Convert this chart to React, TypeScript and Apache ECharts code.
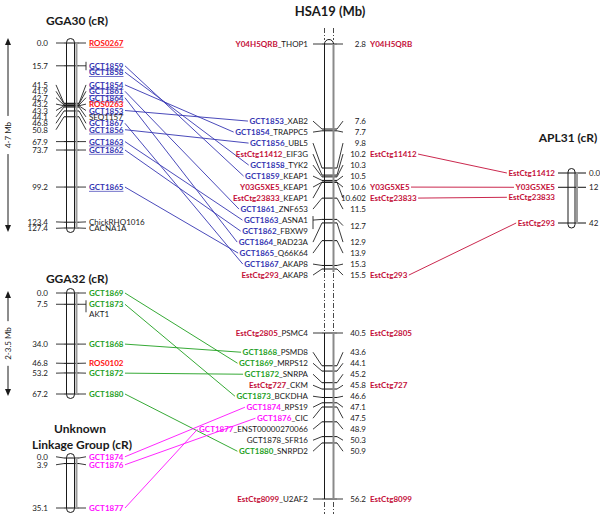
import React, { useEffect, useRef } from "react";
import * as echarts from "echarts";

// ---------------- data ----------------
const gga30Markers = ["ROS0267", "GCT1859", "GCT1858", "GCT1854", "GCT1861", "GCT1864", "ROS0263", "GCT1853", "SEQ1157", "GCT1867", "GCT1856", "GCT1863", "GCT1862", "GCT1865", "ChickRHO1016", "CACNA1A"];
const gga30Positions = [0.0, 15.7, 15.7, 41.5, 41.9, 42.7, 43.2, 43.3, 44.1, 46.8, 50.8, 67.9, 73.7, 99.2, 123.4, 127.4];
const gga30Underlined = ["ROS0267", "GCT1859", "GCT1858", "GCT1854", "GCT1861", "GCT1864", "GCT1853", "GCT1856", "GCT1863", "GCT1862", "GCT1865"];

const gga32Markers = ["GCT1869", "GCT1873", "AKT1", "GCT1868", "ROS0102", "GCT1872", "GCT1880"];
const gga32Positions = [0.0, 7.5, 7.5, 34.0, 46.8, 53.2, 67.2];

const ulgMarkers = ["GCT1874", "GCT1876", "GCT1877"];
const ulgPositions = [0.0, 3.9, 35.1];

const hsaMarkers = ["Y04H5QRB", "GCT1853", "GCT1854", "GCT1856", "EstCtg11412", "GCT1858", "GCT1859", "Y03G5XE5", "EstCtg23833", "GCT1861", "GCT1863", "GCT1862", "GCT1864", "GCT1865", "GCT1867", "EstCtg293", "EstCtg2805", "GCT1868", "GCT1869", "GCT1872", "EstCtg727", "GCT1873", "GCT1874", "GCT1876", "GCT1877", "GCT1878", "GCT1880", "EstCtg8099"];
const hsaGenes = ["THOP1", "XAB2", "TRAPPC5", "UBL5", "EIF3G", "TYK2", "KEAP1", "KEAP1", "KEAP1", "ZNF653", "ASNA1", "FBXW9", "RAD23A", "Q66K64", "AKAP8", "AKAP8", "PSMC4", "PSMD8", "MRPS12", "SNRPA", "CKM", "BCKDHA", "RPS19", "CIC", "ENST00000270066", "SFR16", "SNRPD2", "U2AF2"];
const hsaPositions = [2.8, 7.6, 7.7, 9.8, 10.2, 10.3, 10.5, 10.6, 10.602, 11.5, 12.7, 12.7, 12.9, 13.9, 15.3, 15.5, 40.5, 43.6, 44.1, 45.2, 45.8, 46.6, 47.1, 47.5, 48.9, 50.3, 50.9, 56.2];
const hsaSegments = [[2.8, 15.5], [40.5, 56.2]];

const apl31Markers = ["EstCtg11412", "Y03G5XE5", "EstCtg23833", "EstCtg293"];
const apl31Positions = [0.0, 12, 12, 42];
const apl31TickLabels = ["0.0", "12", "12", "42"];

const mapTitles = ["GGA30 (cR)", "GGA32 (cR)", "Unknown", "Linkage Group (cR)", "HSA19 (Mb)", "APL31 (cR)"];
const scaleBarLabels = ["4-7 Mb", "2-3.5 Mb"];

// ---------------- styles ----------------
const FONT = "Lato, 'Noto Sans', sans-serif";
const LABEL = 8;
const INK = "#1a1a1a";
const TICK = "#222222";
const BLUE = "#3535b2";
const GREEN = "#1f9f1f";
const MAGENTA = "#ff10ff";
const ROS_RED = "#ff1010";
const CRIMSON = "#c4103a";

function spread(ticks: number[], sizes: number[], gap: number): number[] {
  type C = { blocks: number[]; top: number; h: number };
  const clusters: C[] = [];
  for (let i = 0; i < ticks.length; i++) {
    clusters.push({ blocks: [i], top: ticks[i], h: sizes[i] * gap });
    while (clusters.length > 1) {
      const a = clusters[clusters.length - 2];
      const b = clusters[clusters.length - 1];
      if (b.top < a.top + a.h - 1e-6) {
        const blocks = a.blocks.concat(b.blocks);
        let off = 0, sum = 0;
        for (const k of blocks) { sum += ticks[k] - off; off += sizes[k] * gap; }
        clusters.splice(clusters.length - 2, 2, { blocks, top: sum / blocks.length, h: off });
      } else break;
    }
  }
  const tops: number[] = new Array(ticks.length);
  for (const c of clusters) {
    let off = 0;
    for (const k of c.blocks) { tops[k] = c.top + off; off += sizes[k] * gap; }
  }
  return tops;
}

const fmt = (v: number) => (Math.abs(v * 10 - Math.round(v * 10)) < 1e-9 ? v.toFixed(1) : String(v));

export default function App() {
  const ref = useRef<HTMLDivElement>(null);
  useEffect(() => {
    const el = ref.current!;
    const chart = echarts.init(el, null, { renderer: "svg" });
    const ctx = document.createElement("canvas").getContext("2d")!;
    const tw = (t: string, bold: boolean, size = LABEL) => {
      ctx.font = `${bold ? "bold " : ""}${size}px ${FONT}`;
      return ctx.measureText(t).width;
    };
    const last = (a: number[]) => a[a.length - 1];

    const grids = [
      { left: 64, width: 15, top: 43, height: 185, min: gga30Positions[0], max: last(gga30Positions) },
      { left: 64, width: 15, top: 293, height: 101, min: gga32Positions[0], max: last(gga32Positions) },
      { left: 64, width: 15, top: 458, height: 50, min: ulgPositions[0], max: last(ulgPositions) },
      { left: 322, width: 15, top: 44, height: 225, min: hsaSegments[0][0], max: hsaSegments[0][1] },
      { left: 322, width: 15, top: 333, height: 166, min: hsaSegments[1][0], max: hsaSegments[1][1] },
      { left: 558, width: 28, top: 173, height: 50, min: apl31Positions[0], max: last(apl31Positions) },
    ];
    const uniq = (a: number[]) => Array.from(new Set(a));
    const gridPositions = [
      uniq(gga30Positions), uniq(gga32Positions), uniq(ulgPositions),
      uniq(hsaPositions.filter((p) => p <= hsaSegments[0][1])),
      uniq(hsaPositions.filter((p) => p >= hsaSegments[1][0])),
      uniq(apl31Positions),
    ];

    chart.setOption({
      animation: false,
      grid: grids.map((g) => ({ left: g.left, top: g.top, width: g.width, height: g.height, show: false })),
      xAxis: grids.map((_, i) => ({ type: "value", gridIndex: i, min: 0, max: 1, show: false })),
      yAxis: grids.map((g, i) => ({ type: "value", gridIndex: i, min: g.min, max: g.max, inverse: true, show: false })),
      series: grids.map((_, i) => ({
        type: "custom",
        xAxisIndex: i,
        yAxisIndex: i,
        silent: true,
        z: 3,
        data: gridPositions[i].map((p) => [0, p]),
        renderItem: (_p: any, api: any) => {
          const v = api.value(1);
          const a = api.coord([0, v]);
          const b = api.coord([1, v]);
          return { type: "line", shape: { x1: a[0], y1: a[1], x2: b[0], y2: b[1] }, style: { stroke: "#111", lineWidth: 1 } };
        },
      })),
    });

    const px = (axis: number, v: number) => chart.convertToPixel({ yAxisIndex: axis } as any, v) as unknown as number;

    const G: any[] = [];
    const line = (x1: number, y1: number, x2: number, y2: number, stroke: string, lw = 1, dash?: number[]) =>
      G.push({ type: "line", silent: true, z: 5, shape: { x1, y1, x2, y2 }, style: { stroke, lineWidth: lw, lineDash: dash } });
    const text = (t: string, x: number, y: number, o: any = {}) =>
      G.push({
        type: "text", silent: true, z: 10, x, y, rotation: o.rotation || 0,
        style: {
          text: t, fontSize: o.size || LABEL, fontFamily: FONT, fontWeight: o.bold ? "bold" : "normal",
          fill: o.fill || INK, align: o.align || "left", verticalAlign: "middle",
          lineHeight: o.lineHeight, rich: o.rich,
        },
      });

    type Side = { labelSide: "L" | "R"; labelX: number; numX: number; numAlign: string; outerL: number; rodL: number; rodR: number; outerR: number; bracketX: number | null; numAnchor: "first" | "mid"; gap: number };

    const drawMap = (positions: number[], axisOf: (p: number) => number, s: Side, drawLabel: (i: number, y: number) => void, numText: (i: number) => string) => {
      const blocks: any[] = [];
      positions.forEach((p, i) => {
        const lb = blocks[blocks.length - 1];
        if (lb && lb.pos === p) lb.idx.push(i);
        else blocks.push({ pos: p, idx: [i], ty: px(axisOf(p), p) });
      });
      const tops = spread(blocks.map((b) => b.ty), blocks.map((b) => b.idx.length), s.gap);
      blocks.forEach((b, k) => {
        const top = tops[k];
        const n = b.idx.length;
        const lastY = top + (n - 1) * s.gap;
        const fanned = Math.abs(top - b.ty) > 0.75;
        const bracket = n > 1 && s.bracketX !== null;
        const labelY = bracket && fanned ? (top + lastY) / 2 : top;
        const numY = s.numAnchor === "mid" ? (top + lastY) / 2 : top;
        const leftY = s.labelSide === "L" ? labelY : numY;
        const rightY = s.labelSide === "L" ? numY : labelY;
        if (s.rodL - s.outerL > 0.5) line(s.outerL, leftY, s.rodL, b.ty, TICK, 0.9);
        if (s.outerR - s.rodR > 0.5) line(s.rodR, b.ty, s.outerR, rightY, TICK, 0.9);
        if (bracket) line(s.bracketX as number, top - 4, s.bracketX as number, lastY - 2, TICK, 0.9);
        text(numText(b.idx[0]), s.numX, numY, { align: s.numAlign, lineHeight: Math.min(s.gap, 10) });
        b.idx.forEach((i: number, j: number) => drawLabel(i, top + j * s.gap));
      });
    };

    // ---- rods ----
    const ggaRod = (axis: number) => {
      const y1 = px(axis, grids[axis].min) - 4.5;
      const y2 = px(axis, grids[axis].max) + 4.5;
      G.push({ type: "rect", silent: true, z: 4, shape: { x: 66.5, y: y1, width: 8, height: y2 - y1, r: 4 }, style: { fill: "none", stroke: INK, lineWidth: 1 } });
      line(76.5, y1 + 4, 76.5, y2 - 4, "#9a9a9a", 2);
    };
    ggaRod(0); ggaRod(1); ggaRod(2);

    // HSA rod
    const hTop1 = px(3, hsaSegments[0][0]), hBot1 = px(3, hsaSegments[0][1]);
    const hTop2 = px(4, hsaSegments[1][0]), hBot2 = px(4, hsaSegments[1][1]);
    const dash = [5, 2, 1, 2];
    [324.5, 333.5].forEach((x, k) => {
      const col = k === 0 ? INK : "#8a8a8a";
      const lw = k === 0 ? 1 : 2;
      line(x, hTop1, x, hBot1 + 3, col, lw);
      line(x, hTop2, x, hBot2, col, lw);
      line(x, hTop1 - 16, x, hTop1 - 4, "#333", 0.9, dash);
      line(x, hBot1 + 4, x, hTop2 - 2, "#333", 0.9, dash);
      line(x, hBot2 + 3, x, 514, "#333", 0.9, dash);
    });
    G.push({ type: "arc", silent: true, z: 4, shape: { cx: 329, cy: hTop1, r: 4.5, startAngle: Math.PI, endAngle: Math.PI * 2 }, style: { fill: "none", stroke: INK, lineWidth: 1 } });

    // APL rod
    {
      const y1 = px(5, grids[5].min) - 4.5;
      const y2 = px(5, grids[5].max) + 5;
      G.push({ type: "rect", silent: true, z: 4, shape: { x: 568, y: y1, width: 7, height: y2 - y1, r: 3.5 }, style: { fill: "none", stroke: INK, lineWidth: 1 } });
      line(577, y1 + 4, 577, y2 - 4, "#9a9a9a", 2);
    }

    // ---- maps ----
    const ggaSide = { labelSide: "R", labelX: 89, numX: 48, numAlign: "right", outerL: 56, rodL: 64, rodR: 79, outerR: 86, bracketX: 86, numAnchor: "first" };
    const ggaLabel = (markers: string[], color: string, store: Record<string, any>, lh: number) => (i: number, y: number) => {
      const name = markers[i];
      const isRos = /^ROS/.test(name);
      const isGct = /^GCT/.test(name);
      const bold = isRos || isGct;
      const fill = isRos ? ROS_RED : isGct ? color : INK;
      text(name, 89, y, { bold, fill, lineHeight: lh });
      const w = tw(name, bold);
      if (markers === gga30Markers && gga30Underlined.includes(name)) line(89, y + 4.3, 89 + w, y + 4.3, fill, 0.7);
      store[name] = { end: 89 + w, y };
    };
    const a30: Record<string, any> = {}, a32: Record<string, any> = {}, aU: Record<string, any> = {};
    drawMap(gga30Positions, () => 0, { ...ggaSide, gap: 6.4 } as Side, ggaLabel(gga30Markers, BLUE, a30, 6.4), (i) => fmt(gga30Positions[i]));
    drawMap(gga32Positions, () => 1, { ...ggaSide, gap: 10 } as Side, ggaLabel(gga32Markers, GREEN, a32, 10), (i) => fmt(gga32Positions[i]));
    drawMap(ulgPositions, () => 2, { ...ggaSide, gap: 8 } as Side, ggaLabel(ulgMarkers, MAGENTA, aU, 8), (i) => fmt(ulgPositions[i]));

    const hsaColor = (m: string) =>
      gga30Markers.includes(m) ? BLUE : gga32Markers.includes(m) ? GREEN : ulgMarkers.includes(m) ? MAGENTA : /^(EstCtg|Y0)/.test(m) ? CRIMSON : INK;
    const hsaLeft: Record<string, { start: number; y: number }> = {};
    const hsaRight: Record<string, { end: number; y: number }> = {};
    drawMap(
      hsaPositions,
      (p) => (p <= hsaSegments[0][1] ? 3 : 4),
      { labelSide: "L", labelX: 308, numX: 366, numAlign: "right", outerL: 313, rodL: 322, rodR: 337, outerR: 343, bracketX: 313, numAnchor: "mid", gap: 11 },
      (i, y) => {
        const pre = hsaMarkers[i];
        const gene = "_" + hsaGenes[i];
        const color = hsaColor(pre);
        const bold = color !== INK;
        const gw = tw(gene, false);
        const pw = tw(pre, bold);
        text(`{p|${pre}}{g|${gene}}`, 308, y, {
          align: "right",
          lineHeight: 10,
          rich: {
            p: { fill: color, fontWeight: bold ? "bold" : "normal", fontSize: LABEL, fontFamily: FONT, lineHeight: 10 },
            g: { fill: INK, fontWeight: "normal", fontSize: LABEL, fontFamily: FONT, lineHeight: 10 },
          },
        });
        hsaLeft[pre] = { start: 308 - gw - pw, y };
        if (color === CRIMSON) {
          text(pre, 370, y, { bold: true, fill: CRIMSON, lineHeight: 10 });
          hsaRight[pre] = { end: 370 + tw(pre, true), y };
        }
      },
      (i) => fmt(hsaPositions[i])
    );

    const aplA: Record<string, { start: number; y: number }> = {};
    drawMap(
      apl31Positions,
      () => 5,
      { labelSide: "L", labelX: 555, numX: 589, numAlign: "left", outerL: 558, rodL: 558, rodR: 586, outerR: 586, bracketX: null, numAnchor: "first", gap: 10 },
      (i, y) => {
        const n = apl31Markers[i];
        text(n, 555, y, { align: "right", bold: true, fill: CRIMSON, lineHeight: 10 });
        aplA[n] = { start: 555 - tw(n, true), y };
      },
      (i) => apl31TickLabels[i]
    );

    // ---- connections ----
    const connect = (names: string[], anchors: Record<string, any>, color: string) =>
      names.forEach((n) => {
        const a = anchors[n], b = hsaLeft[n];
        if (a && b) line(a.end + 1.5, a.y, b.start - 1.5, b.y, color, 0.9);
      });
    connect(gga30Markers, a30, BLUE);
    connect(gga32Markers, a32, GREEN);
    connect(ulgMarkers, aU, MAGENTA);
    apl31Markers.forEach((n) => {
      const a = hsaRight[n], b = aplA[n];
      if (a && b) line(a.end + 1.5, a.y, b.start - 1.5, b.y, CRIMSON, 0.9);
    });

    // ---- scale arrows ----
    const arrow = (x: number, y1: number, y2: number, label: string) => {
      const mid = (y1 + y2) / 2;
      const half = tw(label, false) / 2 + 6;
      line(x, y1 + 5, x, mid - half, INK, 1);
      line(x, mid + half, x, y2 - 5, INK, 1);
      G.push({ type: "polygon", silent: true, z: 5, shape: { points: [[x, y1], [x - 3, y1 + 7], [x + 3, y1 + 7]] }, style: { fill: INK } });
      G.push({ type: "polygon", silent: true, z: 5, shape: { points: [[x, y2], [x - 3, y2 - 7], [x + 3, y2 - 7]] }, style: { fill: INK } });
      text(label, x, mid, { rotation: Math.PI / 2, align: "center" });
    };
    arrow(8, px(0, grids[0].min) - 5, px(0, grids[0].max) + 4, scaleBarLabels[0]);
    arrow(8, px(1, grids[1].min) - 2, px(1, grids[1].max) + 2, scaleBarLabels[1]);

    // ---- titles ----
    text(mapTitles[0], 77, 20, { size: 12, bold: true, align: "center" });
    text(mapTitles[1], 77, 278, { size: 12, bold: true, align: "center" });
    text(mapTitles[2], 80, 428, { size: 12, bold: true, align: "center" });
    text(mapTitles[3], 82, 444, { size: 12, bold: true, align: "center" });
    text(mapTitles[4], 330, 11, { size: 13, bold: true, align: "center" });
    text(mapTitles[5], 568, 137, { size: 12, bold: true, align: "center" });

    chart.setOption({ graphic: { elements: G } });
    return () => chart.dispose();
  }, []);
  return <div ref={ref} style={{ position: "fixed", left: 0, top: 0, width: 600, height: 514, background: "#fff" }} />;
}
